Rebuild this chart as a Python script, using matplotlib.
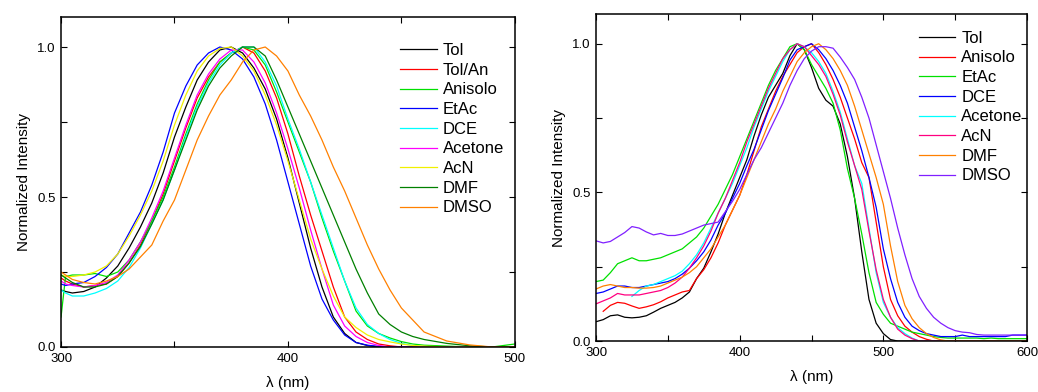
import numpy as np
import matplotlib
matplotlib.use("Agg")
import matplotlib.pyplot as plt
from matplotlib.ticker import MultipleLocator

plt.rcParams['font.family'] = ['Liberation Sans', 'DejaVu Sans']

# ---- left panel (300-500 nm) ----
wl_a = [300, 302, 305, 310, 315, 320, 325, 330, 335, 340, 345, 350, 355, 360, 365,
        370, 375, 380, 385, 390, 395, 400, 405, 410, 415, 420, 425, 430, 435, 440,
        445, 450, 455, 460, 470, 480, 490, 500]

a_tol = [.19, .185, .18, .185, .20, .23, .27, .33, .40, .48, .58, .70, .80, .89, .95,
         .99, 1.0, .98, .93, .86, .76, .63, .48, .33, .20, .10, .045, .015, .005, 0,
         0, 0, 0, 0, 0, 0, 0, 0]
a_tolan = [.23, .22, .21, .20, .205, .21, .235, .28, .34, .42, .51, .62, .73, .83, .90,
           .95, .98, 1.0, .98, .92, .83, .71, .57, .44, .32, .20, .10, .05, .025, .01,
           .004, 0, 0, 0, 0, 0, 0, 0]
a_aniso = [.10, .235, .24, .24, .245, .235, .25, .29, .35, .42, .50, .60, .71, .81, .89,
           .95, .98, 1.0, .99, .94, .85, .75, .65, .55, .43, .32, .22, .12, .07, .045,
           .03, .018, .01, .006, .003, 0, 0, .01]
a_etac = [.21, .205, .21, .215, .235, .265, .31, .38, .45, .54, .65, .78, .87, .94, .98,
          1.0, .99, .96, .90, .81, .69, .55, .41, .27, .16, .09, .04, .015, .006, .002,
          0, 0, 0, 0, 0, 0, 0, 0]
a_dce = [.19, .18, .17, .17, .18, .195, .22, .265, .33, .41, .49, .59, .70, .80, .88,
         .94, .98, 1.0, 1.0, .95, .87, .76, .66, .55, .44, .33, .22, .13, .075, .045,
         .025, .012, .005, 0, 0, 0, 0, 0]
a_acetone = [.22, .21, .205, .20, .205, .215, .24, .29, .35, .43, .52, .63, .74, .84, .91,
             .96, .99, .99, .95, .88, .78, .66, .53, .39, .26, .14, .07, .035, .015, .005,
             0, 0, 0, 0, 0, 0, 0, 0]
a_acn = [.24, .235, .235, .24, .25, .27, .31, .37, .44, .52, .62, .74, .84, .92, .97,
         .995, 1.0, .97, .92, .84, .74, .62, .49, .36, .26, .17, .10, .065, .04, .025,
         .017, .01, .005, .003, 0, 0, 0, 0]
a_dmf = [.24, .23, .215, .20, .20, .21, .235, .28, .335, .41, .49, .59, .69, .79, .87,
         .93, .97, 1.0, 1.0, .97, .89, .80, .71, .62, .53, .44, .35, .26, .18, .11,
         .075, .05, .035, .025, .012, .004, 0, 0]
a_dmso = [.25, .24, .225, .215, .21, .22, .235, .26, .30, .34, .42, .49, .59, .69, .77,
          .84, .89, .95, .99, 1.0, .97, .92, .84, .77, .69, .60, .52, .43, .34, .26,
          .19, .13, .09, .05, .02, .007, 0, 0]

names_a = ["Tol", "Tol/An", "Anisolo", "EtAc", "DCE", "Acetone", "AcN", "DMF", "DMSO"]
series_a = [a_tol, a_tolan, a_aniso, a_etac, a_dce, a_acetone, a_acn, a_dmf, a_dmso]
colors_a = ["black", "#ff0000", "#00e000", "#0000ff", "#00ffff", "#ff00ff",
            "#f0f000", "#008000", "#ff8000"]

# ---- right panel (300-600 nm) ----
wl_b = list(range(300, 605, 5))
nan = np.nan

b_tol = [.065, .072, .085, .088, .08, .078, .08, .085, .097, .11, .12, .13, .145, .165, .21,
         .245, .30, .36, .43, .49, .55, .61, .69, .76, .82, .86, .90, .96, 1.0, .98,
         .92, .85, .81, .79, .73, .62, .48, .30, .14, .06, .025, .005, 0, 0, 0,
         0, 0, 0, 0, 0, 0, 0, 0, 0, 0, 0, 0, 0, 0, 0, 0]
b_aniso = [nan, .10, .12, .13, .127, .118, .11, .115, .122, .132, .145, .155, .165, .17, .21,
           .24, .28, .33, .39, .44, .49, .56, .64, .72, .78, .84, .89, .93, .97, .99,
           1.0, .97, .93, .88, .82, .75, .68, .60, .55, .40, .25, .14, .085, .05, .03,
           .015, .006, 0, 0, 0, 0, 0, 0, 0, 0, 0, 0, 0, 0, 0, 0]
b_etac = [.20, .205, .23, .26, .27, .28, .27, .27, .275, .28, .29, .30, .31, .33, .35,
          .38, .42, .46, .51, .56, .62, .68, .74, .80, .86, .91, .95, .99, 1.0, .98,
          .93, .89, .85, .80, .71, .58, .48, .36, .23, .13, .09, .06, .05, .04, .03,
          .025, .02, .015, .012, .01, .01, .01, .01, .01, .008, .01, .008, .008, .008, .008, .008]
b_dce = [.16, .165, .175, .185, .185, .18, .18, .185, .19, .195, .20, .21, .225, .245, .27,
         .30, .34, .39, .43, .48, .53, .59, .645, .71, .775, .83, .885, .945, .98, .99,
         1.0, .98, .95, .91, .86, .80, .72, .64, .55, .45, .31, .21, .13, .08, .05,
         .035, .025, .02, .015, .015, .015, .02, .015, .015, .015, .015, .015, .015, .02, .02, .02]
b_acetone = [nan, nan, nan, nan, nan, .15, .17, .185, .19, .20, .21, .22, .235, .26, .29,
             .33, .38, .43, .48, .53, .59, .65, .72, .78, .84, .89, .94, .98, 1.0, .99,
             .97, .94, .90, .84, .77, .68, .59, .53, .38, .23, .13, .08, .045, .025, .01,
             0, 0, 0, 0, 0, 0, 0, 0, 0, 0, 0, 0, 0, 0, 0, 0]
b_acn = [.125, .135, .145, .16, .155, .155, .155, .16, .165, .17, .18, .195, .215, .245, .28,
         .32, .37, .43, .48, .54, .60, .67, .73, .79, .85, .90, .95, .98, 1.0, .99,
         .96, .93, .89, .83, .76, .67, .59, .51, .37, .24, .14, .08, .04, .02, .008,
         0, 0, 0, 0, 0, 0, 0, 0, 0, 0, 0, 0, 0, 0, 0, 0]
b_dmf = [.175, .185, .19, .185, .18, .18, .178, .178, .18, .185, .195, .205, .215, .23, .25,
         .28, .31, .35, .39, .44, .49, .55, .61, .67, .73, .78, .84, .89, .94, .97,
         .99, 1.0, .98, .95, .91, .86, .79, .71, .63, .55, .46, .32, .20, .12, .075,
         .045, .025, .012, .004, 0, 0, 0, 0, 0, 0, 0, 0, 0, 0, 0, 0]
b_dmso = [.337, .33, .335, .35, .365, .385, .38, .367, .357, .362, .355, .355, .36, .37, .38,
          .39, .395, .40, .435, .47, .51, .56, .61, .65, .70, .75, .80, .86, .91, .95,
          .975, .99, .99, .985, .955, .92, .88, .82, .75, .66, .57, .48, .38, .29, .21,
          .15, .11, .08, .06, .045, .035, .03, .028, .022, .02, .02, .02, .02, .02, .02, .02]

names_b = ["Tol", "Anisolo", "EtAc", "DCE", "Acetone", "AcN", "DMF", "DMSO"]
series_b = [b_tol, b_aniso, b_etac, b_dce, b_acetone, b_acn, b_dmf, b_dmso]
colors_b = ["black", "#ff0000", "#00e000", "#0000ff", "#00ffff", "#ff0080",
            "#ff8000", "#8020ff"]

fig = plt.figure(figsize=(10.38, 3.92), dpi=100)
ax1 = fig.add_axes([0.0588, 0.1148, 0.4372, 0.8418])
ax2 = fig.add_axes([0.5742, 0.1300, 0.4152, 0.8343])

for name, ys, c in zip(names_a, series_a, colors_a):
    ax1.plot(wl_a, ys, color=c, lw=0.9, label=name)
for name, ys, c in zip(names_b, series_b, colors_b):
    ax2.plot(wl_b, ys, color=c, lw=0.9, label=name)


def style(ax, xmax, anchor):
    ax.set_xlim(300, xmax)
    ax.set_ylim(0, 1.1)
    ax.xaxis.set_major_locator(MultipleLocator(100))
    ax.xaxis.set_minor_locator(MultipleLocator(50))
    ax.yaxis.set_major_locator(MultipleLocator(0.5))
    ax.yaxis.set_minor_locator(MultipleLocator(0.25))
    ax.yaxis.set_major_formatter(plt.FormatStrFormatter('%.1f'))
    ax.tick_params(which='both', direction='in', top=True, right=True,
                   length=4, width=0.8, labelsize=9.5, pad=4)
    for s in ax.spines.values():
        s.set_linewidth(1.1)
    ax.set_xlabel("λ (nm)", fontsize=11, labelpad=8)
    ax.set_ylabel("Normalized Intensity", fontsize=11)
    ax.legend(loc='upper left', bbox_to_anchor=anchor, frameon=False, fontsize=12,
              handlelength=2.2, handletextpad=0.35, labelspacing=0.28, borderpad=0,
              borderaxespad=0)


style(ax1, 500, (0.747, 0.921))
style(ax2, 600, (0.749, 0.949))

fig.savefig("out.png", dpi=100)
